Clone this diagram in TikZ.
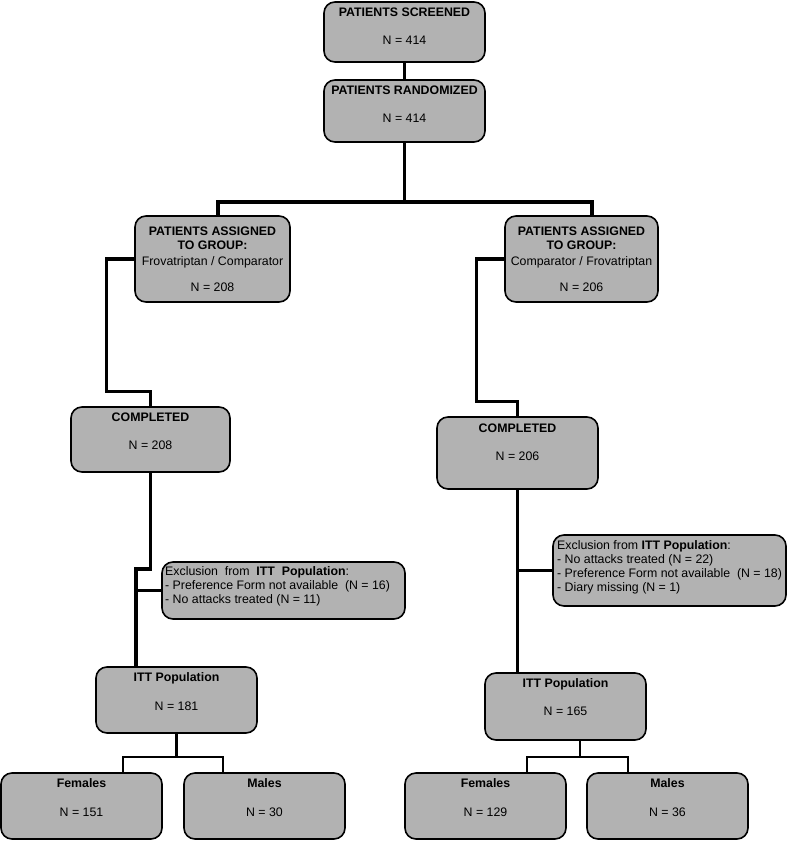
\documentclass[tikz,border=0pt]{standalone}
\usepackage{fontspec}
\setmainfont{Liberation Sans}
\usetikzlibrary{calc}
\definecolor{boxgray}{HTML}{B2B2B2}
\tikzset{
  box/.style={draw=black, line width=1.6pt, fill=boxgray, rounded corners=11pt, inner sep=0pt},
  conn/.style={draw=black, line width=3.4pt},
  connthin/.style={draw=black, line width=2.8pt},
  lbl/.style={inner sep=0pt, text height=9pt, text depth=2.5pt, font=\fontsize{12.35}{14}\selectfont},
  lblb/.style={lbl, font=\fontsize{12.35}{14}\selectfont\bfseries},
  lbll/.style={lbl, anchor=west},
}
\newcommand\gbox[5]{%
  \pgfmathsetmacro\gbw{#4-#2}\pgfmathsetmacro\gbh{#5-#3}%
  \node[box, minimum width=\gbw pt, minimum height=\gbh pt] (#1) at ({(#2+#4)/2},{(#3+#5)/2}) {};}
\newcommand\ltxt[5]{\node[#1] (#2) at (#3,#4) {#5};}
\begin{document}
\begin{tikzpicture}[x=1pt,y=-1pt]
\useasboundingbox (0,0) rectangle (787,841);
% boxes
\gbox{scr}{324}{2}{485}{62}
\gbox{rnd}{324}{80}{485}{142}
\gbox{aL}{135}{216}{290}{302}
\gbox{aR}{505}{216}{658}{302}
\gbox{cL}{71}{407}{230}{472}
\gbox{cR}{437}{417}{598}{489}
\gbox{eL}{162}{562}{405}{619}
\gbox{eR}{553}{535}{786}{606}
\gbox{iL}{96}{667}{257}{733}
\gbox{iR}{485}{673}{646}{740}
\gbox{fL}{1}{773}{162}{839}
\gbox{mL}{184}{773}{345}{839}
\gbox{fR}{405}{773}{566}{839}
\gbox{mR}{587}{773}{748}{839}
% texts
\ltxt{lblb}{t1}{404.5}{13}{PATIENTS SCREENED}
\ltxt{lbl}{t2}{404.5}{41}{N = 414}
\ltxt{lblb}{t3}{404.5}{91}{PATIENTS RANDOMIZED}
\ltxt{lbl}{t4}{404.5}{119}{N = 414}
\ltxt{lblb}{t5}{212.5}{232}{PATIENTS ASSIGNED}
\ltxt{lblb}{t6}{212.5}{246}{TO GROUP:}
\ltxt{lbl}{t7}{212.5}{262}{Frovatriptan / Comparator}
\ltxt{lbl}{t8}{212.5}{288}{N = 208}
\ltxt{lblb}{t9}{581.5}{232}{PATIENTS ASSIGNED}
\ltxt{lblb}{t10}{581.5}{246}{TO GROUP:}
\ltxt{lbl}{t11}{581.5}{262}{Comparator / Frovatriptan}
\ltxt{lbl}{t12}{581.5}{288}{N = 206}
\ltxt{lblb}{t13}{150.5}{418}{COMPLETED}
\ltxt{lbl}{t14}{150.5}{446}{N = 208}
\ltxt{lblb}{t15}{517.5}{429}{COMPLETED}
\ltxt{lbl}{t16}{517.5}{457}{N = 206}
\ltxt{lbll}{t17}{165}{572}{Exclusion\ \ from\ \ \textbf{ITT\ \ Population}:}
\ltxt{lbll}{t18}{165}{586}{- Preference Form not available\ \ (N = 16)}
\ltxt{lbll}{t19}{165}{600}{- No attacks treated (N = 11)}
\ltxt{lbll}{t20}{557}{546}{Exclusion from \textbf{ITT Population}:}
\ltxt{lbll}{t21}{557}{560}{- No attacks treated (N = 22)}
\ltxt{lbll}{t22}{557}{574}{- Preference Form not available\ \ (N = 18)}
\ltxt{lbll}{t23}{557}{588}{- Diary missing (N = 1)}
\ltxt{lblb}{t24}{176.5}{678}{ITT Population}
\ltxt{lbl}{t25}{176.5}{707}{N = 181}
\ltxt{lblb}{t26}{565.5}{684}{ITT Population}
\ltxt{lbl}{t27}{565.5}{712}{N = 165}
\ltxt{lblb}{t28}{81.5}{784}{Females}
\ltxt{lbl}{t29}{81.5}{813}{N = 151}
\ltxt{lblb}{t30}{264.5}{784}{Males}
\ltxt{lbl}{t31}{264.5}{813}{N = 30}
\ltxt{lblb}{t32}{485.5}{784}{Females}
\ltxt{lbl}{t33}{485.5}{813}{N = 129}
\ltxt{lblb}{t34}{667.5}{784}{Males}
\ltxt{lbl}{t35}{667.5}{813}{N = 36}
% connectors
\draw[conn] (scr.south) -- (rnd.north);
\coordinate (jm) at (404.5,202);
\coordinate (jl) at (218,202);
\coordinate (jr) at (592,202);
\draw[conn] (rnd.south) -- (jm);
\draw[conn] (jl |- aL.north) -- (jl) -- (jr) -- (jr |- aR.north);
\draw[conn] (aL.west) -- ++(-28,0) |- ($(cL.north)+(0,-15)$) -- (cL.north);
\draw[conn] (aR.west) -- ++(-28,0) |- ($(cR.north)+(0,-15)$) -- (cR.north);
\coordinate (ll) at (136,569);
\draw[conn] (cL.south) |- (ll) -- (ll |- iL.north);
\draw[conn] (eL.west) -- (eL.west -| ll);
\draw[conn] (cR.south) -- (cR.south |- iR.north);
\draw[conn] (eR.west) -- (eR.west -| cR.south);
\coordinate (gl0) at (176.5,757);
\coordinate (gl1) at (123,757);
\coordinate (gl2) at (223,757);
\draw[connthin] (iL.south) -- (gl0);
\draw[connthin] (gl1 |- fL.north) -- (gl1) -- (gl2) -- (gl2 |- mL.north);
\coordinate (gr0) at (580,757);
\coordinate (gr1) at (527,757);
\coordinate (gr2) at (628,757);
\draw[connthin] (gr0 |- iR.south) -- (gr0);
\draw[connthin] (gr1 |- fR.north) -- (gr1) -- (gr2) -- (gr2 |- mR.north);
\end{tikzpicture}
\end{document}
